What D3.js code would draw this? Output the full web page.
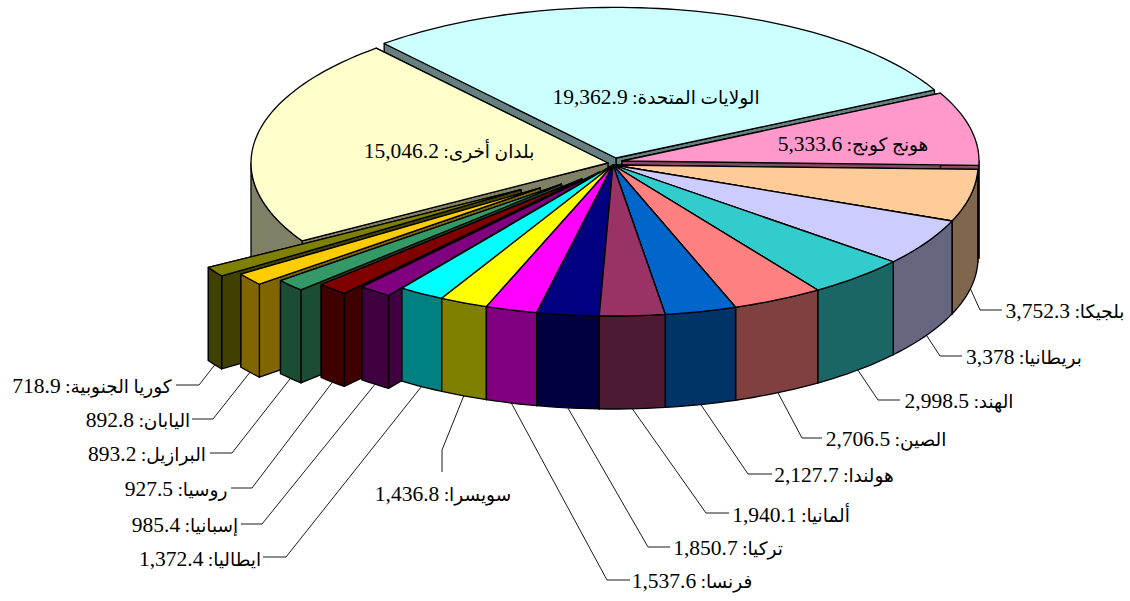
<!DOCTYPE html>
<html lang="ar">
<head>
<meta charset="utf-8">
<title>Pie</title>
<script src="https://cdn.jsdelivr.net/npm/d3@7"></script>
<style>
  html, body { margin: 0; background: #fff; }
  svg { display: block; }
  text { font-family: "Liberation Serif", "DejaVu Sans", serif; fill: #000; }
  .name { font-size: 18.5px; }
  .num { font-size: 21.5px; }
</style>
</head>
<body>
<svg id="chart" width="1130" height="601"></svg>
<script>
const countries = ["الولايات المتحدة", "هونج كونج", "بلجيكا", "بريطانيا", "الهند", "الصين", "هولندا", "ألمانيا", "تركيا", "فرنسا", "سويسرا", "ايطاليا", "إسبانيا", "روسيا", "البرازيل", "اليابان", "كوريا الجنوبية", "بلدان أخرى"];
const values = [19362.9, 5333.6, 3752.3, 3378, 2998.5, 2706.5, 2127.7, 1940.1, 1850.7, 1537.6, 1436.8, 1372.4, 985.4, 927.5, 893.2, 892.8, 718.9, 15046.2];
const topColors = ["#CCFFFF", "#FF99CC", "#FFCC99", "#CCCCFF", "#33CCCC", "#FF8080", "#0066CC", "#993366", "#000080", "#FF00FF", "#FFFF00", "#00FFFF", "#800080", "#800000", "#339966", "#FFCC00", "#808000", "#FFFFCC"];
// how far each slice was pulled out of the pie
const explode = [0, 0, 0, 0, 0, 0, 0, 0, 0, 0, 0, 0, 0.06, 0.125, 0.19, 0.25, 0.3, 0];

// label centre and leader elbow, per slice (null = label sits on the slice)
const labelX = [656, 853, 1065, 1024, 959, 886, 834, 791, 728, 692, 443, 200, 185, 176, 147, 138, 92, 449];
const labelY = [98, 145, 312, 358, 402, 440, 476, 516, 549, 582, 495, 560, 526, 490, 455, 421, 387, 152];
const elbowX = [null, null, 980, 940, 878, 802, 748, 706, 648, 607, 442, 286, 262, 252, 232, 213, 199, null];
const elbowY = [null, null, 310, 356, 400, 438, 474, 513, 547, 580, 450, 557, 524, 488, 453, 419, 385, null];
const leaderEndX = [null, null, 1002, 962, 900, 822, 772, 729, 670, 630, 442, 263, 241, 231, 210, 192, 176, null];
const leaderEndY = [null, null, 310, 356, 400, 438, 474, 513, 547, 580, 472, 557, 524, 488, 453, 419, 385, null];

const depth = 93;
const base = { cx: 613, cy: 165, rx: 365, ry: 151 };
// the first two slices and the last one sit a little off the common centre
const shapes = { 0: { cx: 616, cy: 158, rx: 357, ry: 150.6 }, 1: { cx: 622, cy: 161, rx: 357, ry: 150 }, 17: { cx: 608, cy: 163, rx: 357, ry: 151 } };

const svg = d3.select("#chart");
const rad = Math.PI / 180;

const pie = d3.pie().sort(null).startAngle(319.5 * rad).endAngle((319.5 + 360) * rad);
const slices = pie(values).map((d, i) => {
  const s = shapes[i] || base;
  const mid = (d.startAngle + d.endAngle) / 2;
  return {
    i,
    a0: d.startAngle,
    a1: d.endAngle,
    mid,
    rx: s.rx,
    ry: s.ry,
    cx: s.cx + explode[i] * s.rx * Math.sin(mid),
    cy: s.cy - explode[i] * s.ry * Math.cos(mid),
  };
});

const rim = (s, a) => [s.cx + s.rx * Math.sin(a), s.cy - s.ry * Math.cos(a)];
const line = d3.line();
const area = d3.area().x((d) => d[0]).y0((d) => d[1]).y1((d) => d[1] + depth);

function arcAngles(a0, a1) {
  const n = Math.max(2, Math.ceil((a1 - a0) / (1.5 * rad)));
  return d3.range(n + 1).map((k) => a0 + ((a1 - a0) * k) / n);
}

function sideWall(s, a) {
  return area([[s.cx, s.cy], rim(s, a)]);
}

function outerWall(s) {
  // only the part of the rim facing the viewer
  let lo = s.a0, hi = s.a1;
  const turn = 360 * rad;
  if (lo >= 270 * rad) { lo -= turn; hi -= turn; }
  lo = Math.max(lo, 90 * rad);
  hi = Math.min(hi, 270 * rad);
  if (hi <= lo) return null;
  return area(arcAngles(lo, hi).map((a) => rim(s, a)));
}

function topFace(s) {
  return line([[s.cx, s.cy], ...arcAngles(s.a0, s.a1).map((a) => rim(s, a))]) + "Z";
}

function darken(c) {
  const r = d3.rgb(c);
  return d3.rgb(r.r / 2, r.g / 2, r.b / 2).formatHex();
}

// back slices first, the ones facing the viewer last
const distFromFront = (s) => Math.abs((s.mid / rad) % 360 - 180);
const order = slices.slice().sort((a, b) => d3.descending(distFromFront(a), distFromFront(b)));

const pieGroup = svg.append("g").attr("stroke", "#000").attr("stroke-width", 1.3).attr("stroke-linejoin", "round");

const g = pieGroup.selectAll("g").data(order).join("g");
g.append("path").attr("fill", (s) => darken(topColors[s.i])).attr("d", (s) => sideWall(s, s.a1));
g.append("path").attr("fill", (s) => darken(topColors[s.i])).attr("d", (s) => sideWall(s, s.a0));
g.filter((s) => outerWall(s)).append("path").attr("fill", (s) => darken(topColors[s.i])).attr("d", outerWall);
g.append("path").attr("fill", (s) => topColors[s.i]).attr("d", topFace);

// leader lines
const withLeader = slices.filter((s) => elbowX[s.i] !== null);
svg.append("g").selectAll("path").data(withLeader).join("path")
  .attr("fill", "none")
  .attr("stroke", "#000")
  .attr("stroke-width", 0.9)
  .attr("d", (s) => {
    const p = rim(s, s.mid);
    return line([[p[0], p[1] + depth], [elbowX[s.i], elbowY[s.i]], [leaderEndX[s.i], leaderEndY[s.i]]]);
  });

const fmt = d3.format(",");
const labels = svg.append("g").selectAll("text").data(slices).join("text")
  .attr("direction", "rtl")
  .attr("text-anchor", "middle")
  .attr("x", (s) => labelX[s.i])
  .attr("y", (s) => labelY[s.i])
  .attr("dy", "0.35em");
labels.append("tspan").attr("class", "name").text((s) => `${countries[s.i]}: `);
labels.append("tspan").attr("class", "num").text((s) => fmt(values[s.i]));
</script>
</body>
</html>
